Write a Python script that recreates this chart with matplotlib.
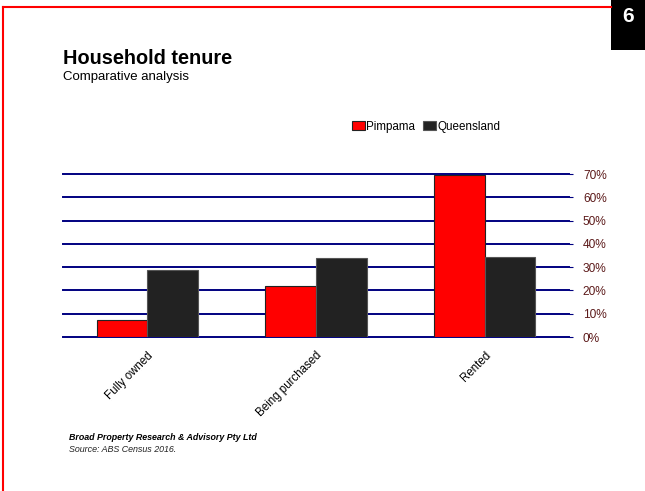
import matplotlib
matplotlib.use("Agg")
import matplotlib.pyplot as plt
from matplotlib.patches import Rectangle
from matplotlib.lines import Line2D
import numpy as np

plt.rcParams['font.family'] = ['Liberation Sans', 'DejaVu Sans']

# Data
categories = ["Fully owned", "Being purchased", "Rented"]
pimpama = [7.3, 21.9, 69.5]
queensland = [28.8, 33.9, 34.3]
yticks = [0, 10, 20, 30, 40, 50, 60, 70]
series_names = ["Pimpama", "Queensland"]

fig = plt.figure(figsize=(6.45, 4.91), dpi=100)

# Page decorations: red border, black page-number box
fig.add_artist(Line2D([3 / 645, 611 / 645], [1 - 7 / 491, 1 - 7 / 491], color='#ff0000', lw=1.5,
                      transform=fig.transFigure))
fig.add_artist(Line2D([3 / 645, 3 / 645], [0, 1 - 7 / 491], color='#ff0000', lw=1.5,
                      transform=fig.transFigure))
fig.add_artist(Rectangle((611 / 645, 1 - 50 / 491), 34 / 645, 50 / 491, facecolor='black',
                         edgecolor='none', transform=fig.transFigure))
fig.text(628 / 645, 1 - 17 / 491, "6", color='white', fontsize=15, fontweight='bold',
         ha='center', va='center')

# Titles
fig.text(63 / 645, 1 - 58 / 491, "Household tenure", fontsize=14.3, fontweight='bold', va='center')
fig.text(63 / 645, 1 - 77 / 491, "Comparative analysis", fontsize=9.5, va='center')

ax = fig.add_axes([63 / 645, 1 - 337 / 491, 506 / 645, 163 / 491])
x = np.arange(len(categories))
w = 0.3
ax.bar(x - w / 2, pimpama, w, color='#ff0000', edgecolor='#222222', lw=0.8, zorder=3,
       label=series_names[0])
ax.bar(x + w / 2, queensland, w, color='#222222', edgecolor='#555555', lw=0.8, zorder=3,
       label=series_names[1])

for y in yticks:
    ax.axhline(y, color='#000080', lw=1.4, zorder=1, clip_on=False)

ax.set_xlim(-0.5, 2.5)
ax.set_ylim(0, 70)
ax.set_yticks(yticks)
ax.set_yticklabels([f"{v}%" for v in yticks], color='#5c1a1a', fontsize=8.6)
ax.yaxis.tick_right()
ax.tick_params(axis='y', length=3, color='#000080', pad=7)
ax.set_xticks(x)
ax.set_xticklabels(categories, rotation=45, ha='right', rotation_mode='anchor', fontsize=8.3)
ax.tick_params(axis='x', length=0, pad=9)
for s in ax.spines.values():
    s.set_visible(False)

leg = fig.legend(loc='center left', bbox_to_anchor=(346 / 645, 1 - 127 / 491), ncol=2,
                 frameon=False, fontsize=8.4, handlelength=1.1, handleheight=0.8,
                 handletextpad=0.1, columnspacing=0.7, borderpad=0)

# Footer
fig.text(69 / 645, 1 - 437 / 491, "Broad Property Research & Advisory Pty Ltd", fontsize=6.4,
         fontweight='bold', style='italic', va='center')
fig.text(69 / 645, 1 - 450 / 491, "Source: ABS Census 2016.", fontsize=6.4, style='italic',
         va='center', color='#222222')

fig.savefig("out.png", dpi=100)
